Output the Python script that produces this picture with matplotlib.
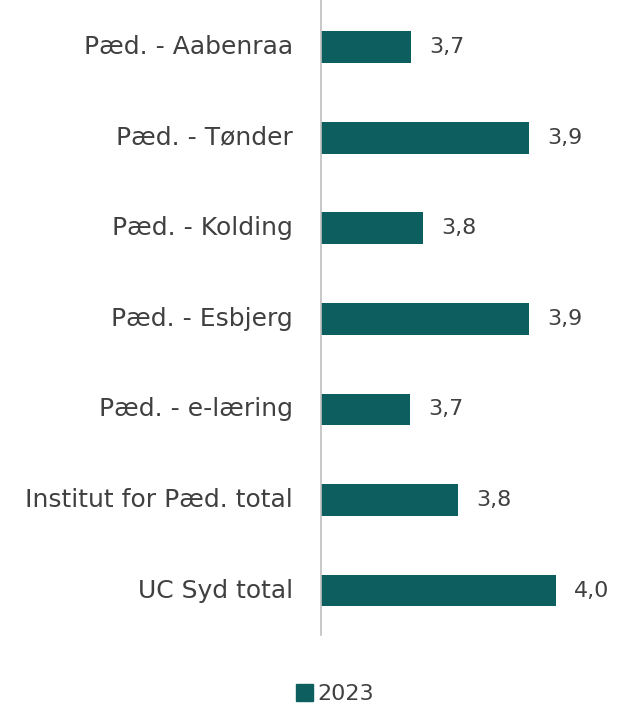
import matplotlib.pyplot as plt
from matplotlib.patches import Patch

categories = ['Pæd. - Aabenraa', 'Pæd. - Tønder', 'Pæd. - Kolding', 'Pæd. - Esbjerg',
              'Pæd. - e-læring', 'Institut for Pæd. total', 'UC Syd total']
values_2023 = [3.735, 3.91, 3.752, 3.91, 3.733, 3.805, 3.95]
series_name = '2023'

bar_color = '#0d5f5f'
text_color = '#404040'

fig = plt.figure(figsize=(6.21, 7.08), dpi=100)
ax = fig.add_axes([321 / 621, 73 / 708, 268 / 621, 635 / 708])

ypos = list(range(len(categories)))
ax.barh(ypos, [v - 3.6 for v in values_2023], left=3.6, height=0.35, color=bar_color)

for y, v in zip(ypos, values_2023):
    ax.text(v + 0.027, y, f'{v:.1f}'.replace('.', ','), va='center', ha='left',
            fontsize=16, color=text_color)

ax.set_xlim(3.6, 4.0)
ax.set_ylim(6.49, -0.52)
ax.set_yticks(ypos)
ax.set_yticklabels(categories, fontsize=18, color=text_color, va='center')
ax.tick_params(axis='y', length=0, pad=20)
ax.set_xticks([])
for s in ['top', 'right', 'bottom']:
    ax.spines[s].set_visible(False)
ax.spines['left'].set_color('#bfbfbf')
ax.spines['left'].set_linewidth(1.2)

fig.legend(handles=[Patch(color=bar_color, label=series_name)], loc='center',
           bbox_to_anchor=(335 / 621, 1 - 694 / 708), frameon=False, fontsize=16,
           handlelength=0.8, handleheight=0.8, handletextpad=0.2, labelcolor=text_color)

fig.savefig('out.png', dpi=100)
